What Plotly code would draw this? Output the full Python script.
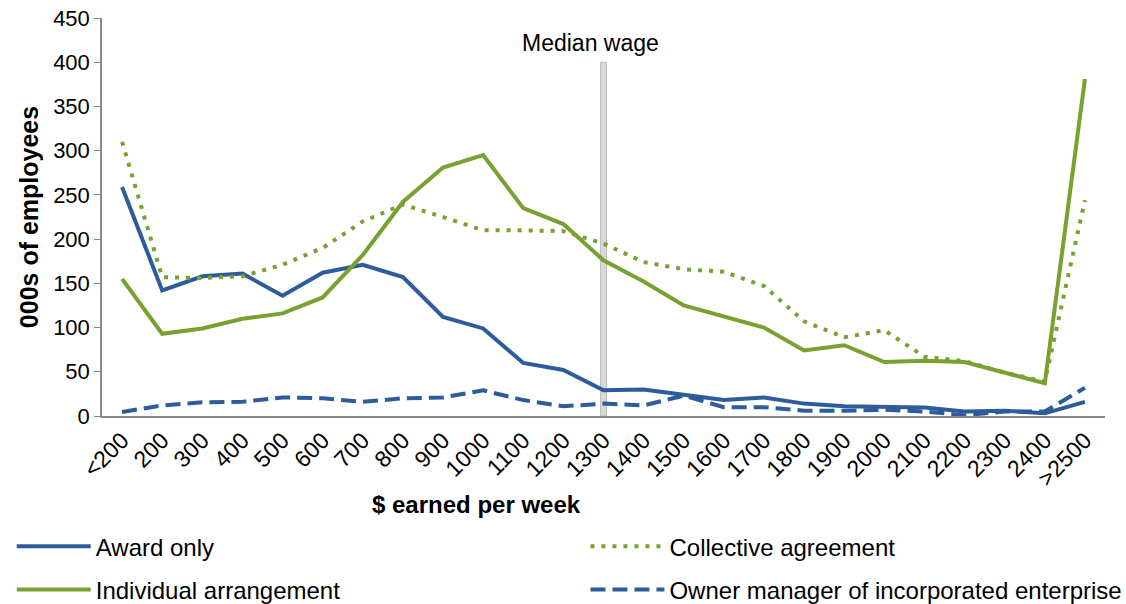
import plotly.graph_objects as go

categories = ["<200", "200", "300", "400", "500", "600", "700", "800", "900", "1000",
              "1100", "1200", "1300", "1400", "1500", "1600", "1700", "1800", "1900",
              "2000", "2100", "2200", "2300", "2400", ">2500"]

award_only = [259, 142, 158, 161, 136, 162, 171, 157, 112, 99, 60, 52, 29, 30, 24, 18, 21,
              14, 11, 10, 9.5, 5, 6, 3, 16]
collective = [310, 157, 156, 158, 171, 190, 220, 239, 225, 210, 210, 209, 195, 174, 166,
              163, 147, 107, 89, 97, 67, 62, 49, 39, 244]
individual = [155, 93, 99, 110, 116, 134, 182, 242, 281, 295, 235, 217, 176, 152, 125,
              112, 100, 74, 80, 61, 62.5, 61, 49, 37, 381]
owner_manager = [4.5, 12, 15.5, 16, 21, 20, 16, 20, 21, 29, 18, 11, 14, 12, 23, 10, 10,
                 6, 6, 7, 5, 1, 5, 5, 32]

median_category = "1300"
median_value = 400

BLUE = "#2C5C9C"
GREEN = "#77A22F"
FONT = "Liberation Sans, Arial, sans-serif"

fig = go.Figure()

fig.add_trace(go.Bar(x=[median_category], y=[median_value], width=0.15,
                     marker=dict(color="#D9D9D9", line=dict(color="#BFBFBF", width=1)),
                     showlegend=False, hoverinfo="skip"))
fig.add_trace(go.Scatter(x=categories, y=award_only, mode="lines", name="Award only",
                         legend="legend", legendgroup="a",
                         line=dict(color=BLUE, width=4)))
fig.add_trace(go.Scatter(x=categories, y=individual, mode="lines", name="Individual arrangement",
                         legend="legend", legendgroup="b",
                         line=dict(color=GREEN, width=4)))
fig.add_trace(go.Scatter(x=categories, y=collective, mode="lines", name="Collective agreement",
                         legend="legend2", legendgroup="c",
                         line=dict(color=GREEN, width=4, dash="4px,7px")))
fig.add_trace(go.Scatter(x=categories, y=owner_manager, mode="lines",
                         name="Owner manager of incorporated enterprise",
                         legend="legend2", legendgroup="d",
                         line=dict(color=BLUE, width=4, dash="15px,7px")))

legend_common = dict(orientation="v", xanchor="left", yanchor="top", y=-0.272,
                     font=dict(size=24, family=FONT, color="black"), itemwidth=74,
                     tracegroupgap=9, bgcolor="rgba(0,0,0,0)")

# the page body margin is removed below, so the figure fills the whole window
fig.update_layout(
    width=1126, height=604,
    margin=dict(l=102, r=21, t=18, b=188, autoexpand=False),
    paper_bgcolor="white", plot_bgcolor="white",
    font=dict(family=FONT, size=22, color="black"),
    showlegend=True,
    legend=dict(x=-0.090, **legend_common),
    legend2=dict(x=0.482, **legend_common),
    xaxis=dict(type="category", categoryorder="array", categoryarray=categories,
               tickangle=-45, showline=True, linecolor="#888888",
               linewidth=1.5, ticks="", showgrid=False, tickfont=dict(size=23),
               range=[-0.5, len(categories) - 0.5], ticklabeloverflow="allow"),
    yaxis=dict(range=[0, 450], dtick=50, showline=True, linecolor="#888888", linewidth=1.5,
               ticks="outside", ticklen=6, tickcolor="#888888", showgrid=False,
               zeroline=False, tickfont=dict(size=22), ticklabeloverflow="allow",
               title=dict(text="<b>000s of employees</b>", font=dict(size=25), standoff=7)),
    annotations=[
        dict(text="<b>$ earned per week</b>", xref="paper", yref="paper", x=0.373,
             y=-0.2236, xanchor="center", yanchor="middle", showarrow=False,
             font=dict(size=24)),
        dict(text="Median wage", xref="x", yref="paper",
             x=categories.index(median_category), y=0.937, xshift=-13,
             xanchor="center", yanchor="middle", showarrow=False, font=dict(size=23)),
    ],
)

fig.write_html("out.html", config={"displayModeBar": False},
               post_script="document.body.style.margin='0';document.body.style.padding='0';")
